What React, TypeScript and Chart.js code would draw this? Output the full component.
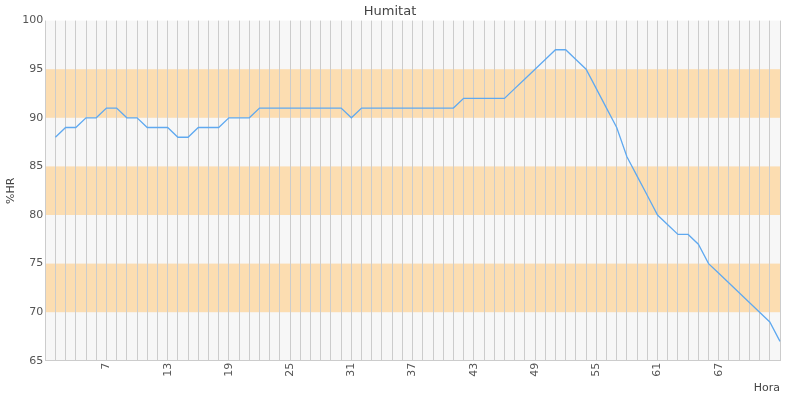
import React, { useEffect, useRef } from "react";
import { Chart, registerables } from "chart.js";

Chart.register(...registerables);

const hours: string[] = [
  "1", "2", "3", "4", "5", "6", "7", "8", "9", "10",
  "11", "12", "13", "14", "15", "16", "17", "18", "19", "20",
  "21", "22", "23", "24", "25", "26", "27", "28", "29", "30",
  "31", "32", "33", "34", "35", "36", "37", "38", "39", "40",
  "41", "42", "43", "44", "45", "46", "47", "48", "49", "50",
  "51", "52", "53", "54", "55", "56", "57", "58", "59", "60",
  "61", "62", "63", "64", "65", "66", "67", "68", "69", "70",
  "71", "72", "73",
];

const humidity: (number | null)[] = [
  null, 88, 89, 89, 90, 90, 91, 91, 90, 90,
  89, 89, 89, 88, 88, 89, 89, 89, 90, 90,
  90, 91, 91, 91, 91, 91, 91, 91, 91, 91,
  90, 91, 91, 91, 91, 91, 91, 91, 91, 91,
  91, 92, 92, 92, 92, 92, 93, 94, 95, 96,
  97, 97, 96, 95, 93, 91, 89, 86, 84, 82,
  80, 79, 78, 78, 77, 75, 74, 73, 72, 71,
  70, 69, 67,
];

// shaded bands [from, to]
const bands: [number, number][] = [
  [70, 75],
  [80, 85],
  [90, 95],
];

const yMin = 65;
const yMax = 100;
const tickEvery = 6;

const bandPlugin = {
  id: "bands",
  beforeDraw(chart: any) {
    const { ctx, chartArea, scales } = chart;
    if (!chartArea) return;
    const y = scales.y;
    ctx.save();
    ctx.fillStyle = "#f7f7f7";
    ctx.fillRect(chartArea.left, chartArea.top, chartArea.right - chartArea.left, chartArea.bottom - chartArea.top);
    ctx.fillStyle = "#fcddb1";
    for (const [a, b] of bands) {
      const top = y.getPixelForValue(b);
      const bot = y.getPixelForValue(a);
      ctx.fillRect(chartArea.left, top, chartArea.right - chartArea.left, bot - top);
    }
    ctx.restore();
  },
};

export default function App() {
  const ref = useRef<HTMLCanvasElement | null>(null);

  useEffect(() => {
    if (!ref.current) return;
    const font = "'DejaVu Sans', sans-serif";
    const chart = new Chart(ref.current, {
      type: "line",
      data: {
        labels: hours,
        datasets: [
          {
            label: "%HR",
            data: humidity,
            borderColor: "#5fa9f0",
            borderWidth: 1.3,
            pointRadius: 0,
            tension: 0,
            fill: false,
          },
        ],
      },
      options: {
        animation: false,
        responsive: true,
        maintainAspectRatio: false,
        layout: { padding: { left: 0, right: 20, top: 0, bottom: 4 } },
        plugins: {
          legend: { display: false },
          tooltip: { enabled: false },
          title: {
            display: true,
            text: "Humitat",
            color: "#444",
            font: { family: font, size: 13, weight: "normal" },
            padding: { top: 4, bottom: 1 },
          },
        },
        scales: {
          x: {
            grid: { display: true, color: "#cccccc", drawTicks: false, lineWidth: 1 },
            border: { display: true, color: "#cccccc" },
            ticks: {
              autoSkip: false,
              minRotation: 90,
              maxRotation: 90,
              padding: 2,
              color: "#555",
              font: { family: font, size: 11 },
              callback: (_v: any, i: number) =>
                i > 0 && i < hours.length - 1 && i % tickEvery === 0 ? hours[i] : "",
            },
            title: {
              display: true,
              text: "Hora",
              align: "end",
              color: "#444",
              font: { family: font, size: 11 },
              padding: { top: 3, bottom: 1 },
            },
          },
          y: {
            min: yMin,
            max: yMax,
            grid: { display: false, drawTicks: false },
            border: { display: false },
            ticks: {
              stepSize: 5,
              padding: 2,
              color: "#555",
              font: { family: font, size: 11 },
            },
            title: {
              display: true,
              text: "%HR",
              color: "#444",
              font: { family: font, size: 11 },
              padding: { top: 5, bottom: 2 },
            },
          },
        },
      },
      plugins: [bandPlugin],
    });
    return () => chart.destroy();
  }, []);

  return (
    <div style={{ position: "fixed", left: 0, top: 0, width: 800, height: 400 }}>
      <canvas ref={ref} />
    </div>
  );
}
